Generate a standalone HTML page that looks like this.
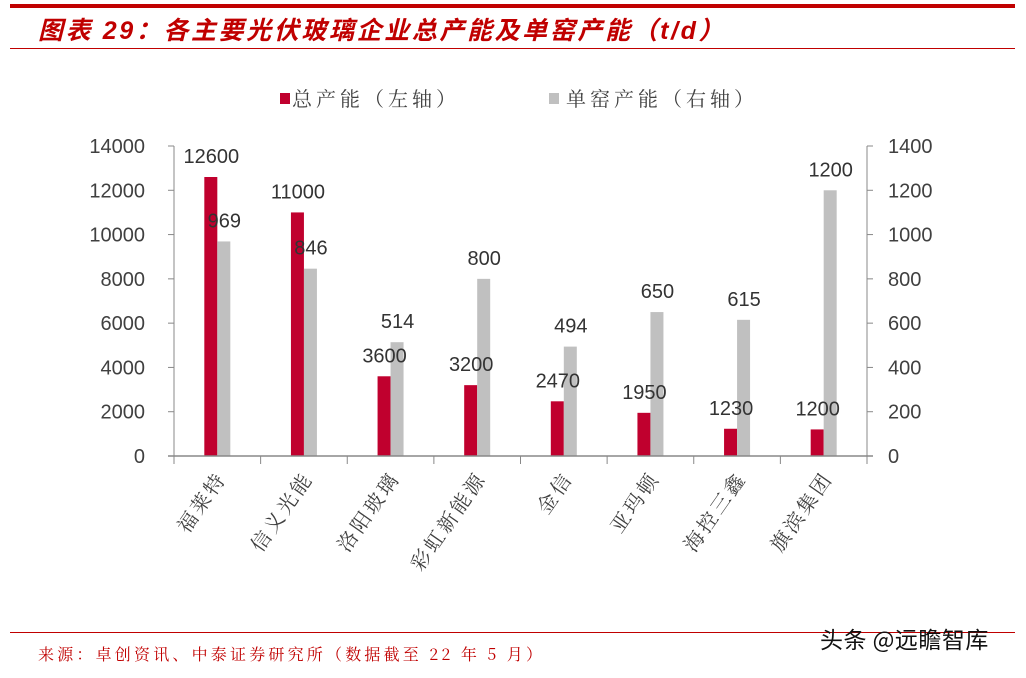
<!DOCTYPE html>
<html><head><meta charset="utf-8"><style>
body{margin:0;background:#fff;width:1026px;height:673px;overflow:hidden;font-family:"Liberation Sans","Noto Sans CJK SC",sans-serif;}
</style></head><body>
<svg width="1026" height="673" xmlns="http://www.w3.org/2000/svg">
<rect x="10" y="4" width="1005" height="4" fill="#c00000"/>
<text x="38" y="39" font-size="25" font-weight="bold" font-style="italic" letter-spacing="2.6" fill="#c00000" font-family="Liberation Sans,Noto Sans CJK SC,sans-serif">图表 29：各主要光伏玻璃企业总产能及单窑产能（t/d）</text>
<rect x="10" y="48" width="1005" height="1" fill="#c00000"/>
<g>
<rect x="280" y="93" width="10" height="11" fill="#c0002e"/>
<text x="292" y="106" font-size="20" letter-spacing="4" fill="#404040" font-family="Noto Serif CJK SC,serif">总产能（左轴）</text>
<rect x="549" y="93" width="10" height="11" fill="#c0c0c0"/>
<text x="566" y="106" font-size="20" letter-spacing="4" fill="#404040" font-family="Noto Serif CJK SC,serif">单窑产能（右轴）</text>
</g>
<g id="plot"></g>
<rect x="10" y="632" width="1005" height="1" fill="#c00000"/>
<text x="38" y="660" font-size="16" letter-spacing="3.2" fill="#c00000" font-family="Noto Serif CJK SC,serif">来源：卓创资讯、中泰证券研究所（数据截至 22 年 5 月）</text>
<text x="820" y="648" font-size="23" letter-spacing="0.5" fill="#111" font-family="Noto Sans CJK SC,sans-serif">头条 @远瞻智库</text>
</svg>
<script>
const categories=["福莱特","信义光能","洛阳玻璃","彩虹新能源","金信","亚玛顿","海控三鑫","旗滨集团"];
const totalCapacity=[12600,11000,3600,3200,2470,1950,1230,1200];
const kilnCapacity=[969,846,514,800,494,650,615,1200];
const leftTicks=[0,2000,4000,6000,8000,10000,12000,14000];
const rightTicks=[0,200,400,600,800,1000,1200,1400];
const NS="http://www.w3.org/2000/svg";
const g=document.getElementById('plot');
const X0=174,X1=867,Y0=456,Y1=146;
const yL=v=>Y0-v/14000*(Y0-Y1);
const yR=v=>Y0-v/1400*(Y0-Y1);
const bw=(X1-X0)/categories.length;
function mk(t,a,txt){const e=document.createElementNS(NS,t);for(const k in a)e.setAttribute(k,a[k]);if(txt!==undefined)e.textContent=txt;g.appendChild(e);return e;}
leftTicks.forEach(v=>{
 const e=mk('text',{x:145,y:yL(v)+7,'font-size':20,'text-anchor':'end',fill:'#404040'},v);
 
 
 const t=mk('line',{x1:X0-6,x2:X0,y1:yL(v),y2:yL(v),stroke:'#888'});
 
 
});
rightTicks.forEach(v=>{
 const e=mk('text',{x:888,y:yR(v)+7,'font-size':20,'text-anchor':'start',fill:'#404040'},v);
 
 
 const t=mk('line',{x1:X1,x2:X1+6,y1:yR(v),y2:yR(v),stroke:'#888'});
 
 
});
let a=mk('line',{x1:X0,x2:X0,y1:Y1,y2:Y0,stroke:'#888'});


a=mk('line',{x1:X1,x2:X1,y1:Y1,y2:Y0,stroke:'#888'});


categories.forEach((c,i)=>{
 const cx=X0+bw*(i+0.5);
 const r=mk('rect',{x:cx-13,y:yL(totalCapacity[i]),width:13,height:Y0-yL(totalCapacity[i]),fill:'#c0002e'});
 
 
 const s=mk('rect',{x:cx,y:yR(kilnCapacity[i]),width:13,height:Y0-yR(kilnCapacity[i]),fill:'#c0c0c0'});
 
 
 const l1=mk('text',{x:cx-6,y:yL(totalCapacity[i])-14,'font-size':20,'text-anchor':'middle',fill:'#333'},totalCapacity[i]);
 
 
 const l2=mk('text',{x:cx+7,y:yR(kilnCapacity[i])-14,'font-size':20,'text-anchor':'middle',fill:'#333'},kilnCapacity[i]);
 
 
 const lb=mk('text',{x:0,y:0,'font-size':20,'letter-spacing':3,'text-anchor':'end',fill:'#404040','font-family':'Noto Serif CJK SC,serif',transform:`translate(${cx+10},${Y0+22}) rotate(-55)`},c);
 
 
});
for(let i=0;i<=categories.length;i++){
 const x=X0+bw*i;
 const t=mk('line',{x1:x,x2:x,y1:Y0,y2:Y0+8,stroke:'#888'});
 
 
}
a=mk('line',{x1:X0-6,x2:X1+6,y1:Y0,y2:Y0,stroke:'#888','stroke-width':1.5});


</script>
</body></html>
